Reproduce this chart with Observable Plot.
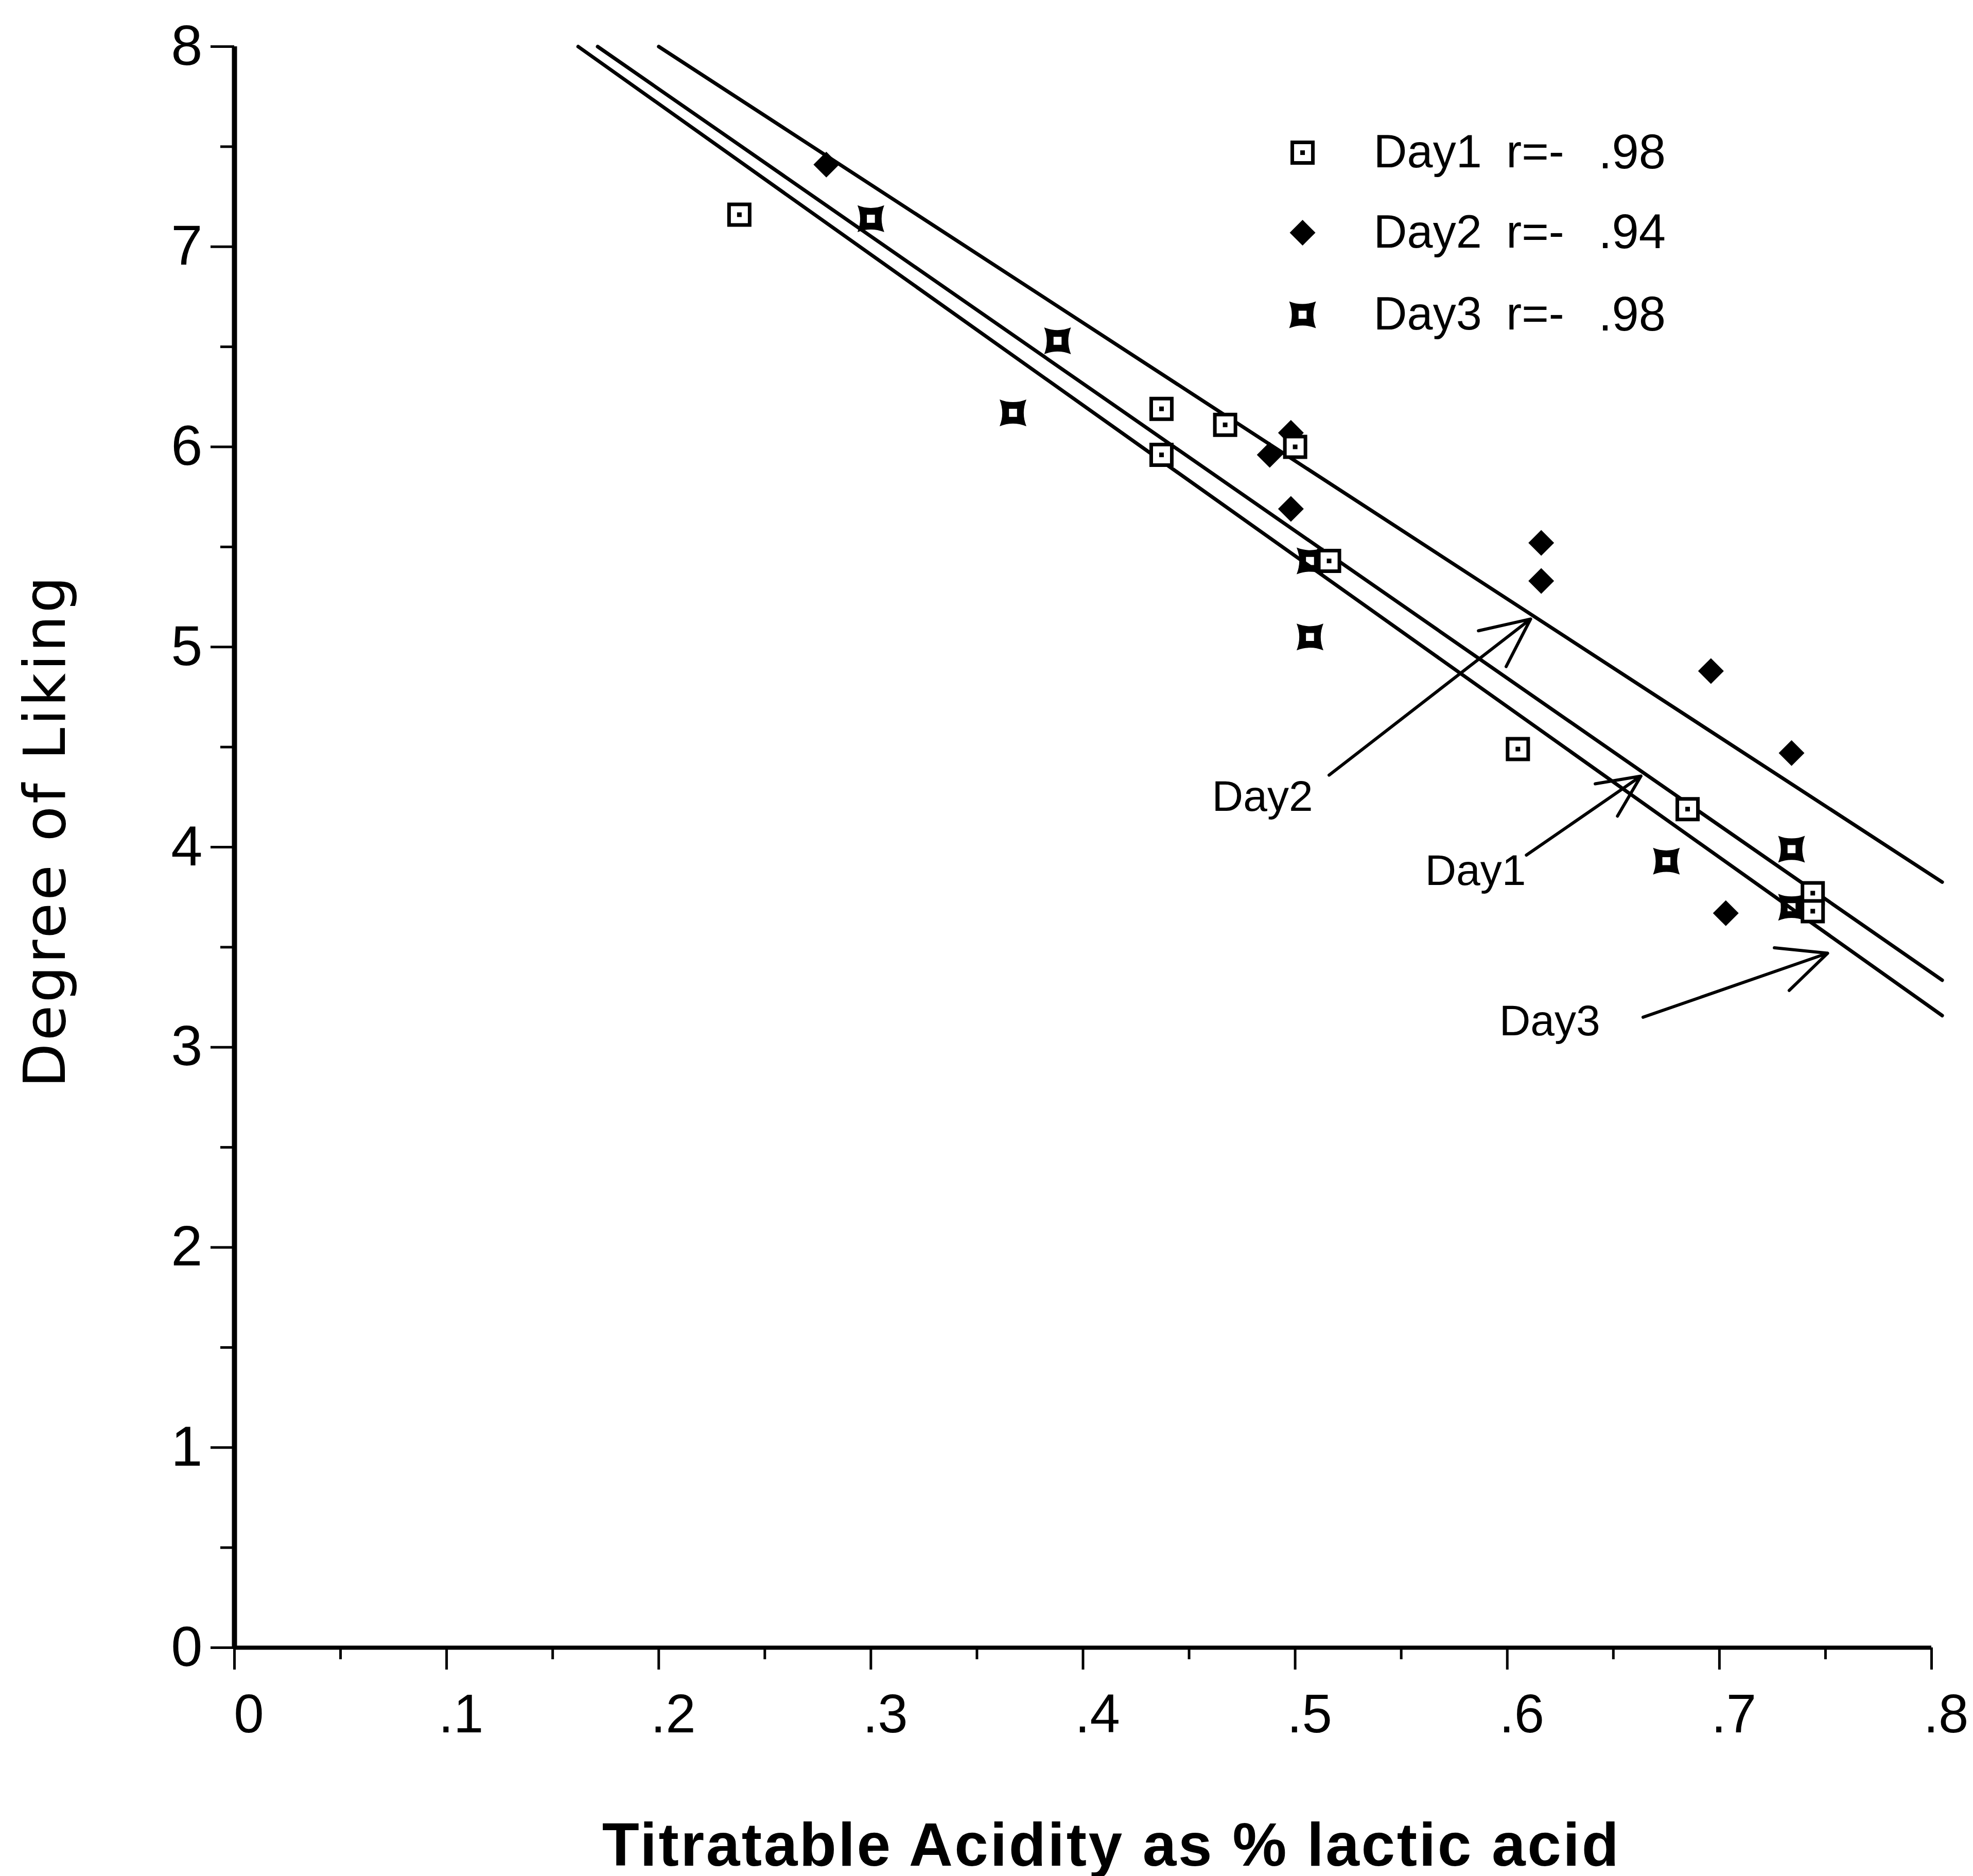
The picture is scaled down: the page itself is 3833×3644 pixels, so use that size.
<!DOCTYPE html>
<html><head><meta charset="utf-8">
<script src="https://cdn.jsdelivr.net/npm/d3@7"></script>
<script src="https://cdn.jsdelivr.net/npm/@observablehq/plot@0.6"></script>
<style>
html,body{margin:0;padding:0;background:#fff;}
</style>
</head><body><div id="chart"></div>
<script>
// ---- data ----
const day1X = [0.238, 0.437, 0.467, 0.437, 0.500, 0.516, 0.605, 0.685, 0.744, 0.744];
const day1Y = [7.16, 6.19, 6.11, 5.96, 6.00, 5.43, 4.49, 4.19, 3.77, 3.68];
const day2X = [0.279, 0.498, 0.488, 0.498, 0.616, 0.616, 0.696, 0.734, 0.703];
const day2Y = [7.41, 6.07, 5.96, 5.69, 5.52, 5.33, 4.88, 4.47, 3.67];
const day3X = [0.300, 0.388, 0.367, 0.507, 0.507, 0.734, 0.675, 0.734];
const day3Y = [7.14, 6.53, 6.17, 5.43, 5.05, 3.99, 3.93, 3.70];

const days = ["Day1", "Day2", "Day3"];
const rValues = [".98", ".94", ".98"];
const fitIntercept = [9.26, 9.38, 9.22];
const fitSlope = [-7.36, -6.90, -7.53];

const xTickValues = [0, 0.1, 0.2, 0.3, 0.4, 0.5, 0.6, 0.7, 0.8];
const xTickLabels = ["0", ".1", ".2", ".3", ".4", ".5", ".6", ".7", ".8"];
const xMinorTicks = [0.05, 0.15, 0.25, 0.35, 0.45, 0.55, 0.65, 0.75];
const yTickValues = [0, 1, 2, 3, 4, 5, 6, 7, 8];
const yTickLabels = ["0", "1", "2", "3", "4", "5", "6", "7", "8"];
const yMinorTicks = [0.5, 1.5, 2.5, 3.5, 4.5, 5.5, 6.5, 7.5];
const xTitle = "Titratable Acidity as % lactic acid";
const yTitle = "Degree of Liking";

// annotation callouts (label and arrow in data units)
const annoLabel = ["Day2", "Day1", "Day3"];
const annoTextX = [0.4846, 0.585, 0.620];
const annoTextY = [4.25, 3.88, 3.13];
const annoFromX = [0.516, 0.609, 0.664];
const annoFromY = [4.36, 3.96, 3.15];
const annoToX = [0.611, 0.663, 0.751];
const annoToY = [5.14, 4.355, 3.47];

// ---- build tables ----
const pts = (xs, ys) => xs.map((x, i) => ({x, y: ys[i]}));
const d1 = pts(day1X, day1Y), d2 = pts(day2X, day2Y), d3pts = pts(day3X, day3Y);
const fits = days.flatMap((d, i) => {
  const xa = (8 - fitIntercept[i]) / fitSlope[i];
  const xb = 0.805;
  return [{day: d, x: xa, y: fitIntercept[i] + fitSlope[i] * xa},
          {day: d, x: xb, y: fitIntercept[i] + fitSlope[i] * xb}];
});
const annos = annoLabel.map((t, i) => ({t, lx: annoTextX[i], ly: annoTextY[i],
  fx: annoFromX[i], fy: annoFromY[i], tx: annoToX[i], ty: annoToY[i]}));
const legendRows = days.map((d, i) => ({day: d, r: "r=-", v: rValues[i], row: i}));
const legendRowY = [7.47, 7.07, 6.66];

// ---- custom symbols ----
const sqOpen = {draw(ctx, size) {const r = Math.sqrt(size / Math.PI);
  ctx.moveTo(-r, -r); ctx.lineTo(r, -r); ctx.lineTo(r, r); ctx.lineTo(-r, r); ctx.closePath();}};
const diamond = {draw(ctx, size) {const r = Math.sqrt(size / Math.PI);
  ctx.moveTo(0, -r); ctx.lineTo(r, 0); ctx.lineTo(0, r); ctx.lineTo(-r, 0); ctx.closePath();}};
const concave = {draw(ctx, size) {const r = Math.sqrt(size / Math.PI); const k = r * 0.6;
  ctx.moveTo(-r, -r); ctx.quadraticCurveTo(0, -k, r, -r); ctx.quadraticCurveTo(k, 0, r, r);
  ctx.quadraticCurveTo(0, k, -r, r); ctx.quadraticCurveTo(-k, 0, -r, -r); ctx.closePath();
  const h = r * 0.3; ctx.moveTo(-h, -h); ctx.lineTo(-h, h); ctx.lineTo(h, h); ctx.lineTo(h, -h); ctx.closePath();}};

function day1Marks(data, x, y) {
  return [
    Plot.dot(data, {x, y, symbol: sqOpen, r: 20, fill: "white", stroke: "black", strokeWidth: 7}),
    Plot.dot(data, {x, y, symbol: sqOpen, r: 4.5, fill: "black", stroke: "none"})
  ];
}
function day2Marks(data, x, y) {
  return [Plot.dot(data, {x, y, symbol: diamond, r: 25, fill: "black", stroke: "none"})];
}
function day3Marks(data, x, y) {
  return [Plot.dot(data, {x, y, symbol: concave, r: 26, fill: "black", stroke: "none"})];
}

const font = "'Liberation Sans', Arial, Helvetica, sans-serif";

const chart = Plot.plot({
  width: 3833, height: 3644,
  marginLeft: 455, marginRight: 81, marginTop: 90, marginBottom: 444,
  style: {fontFamily: font, fontSize: "105px", color: "#000", background: "#fff", overflow: "visible"},
  x: {domain: [0, 0.8]},
  y: {domain: [0, 8]},
  marks: [
    // ticks
    Plot.axisX({ticks: xTickValues, tickSize: 43, strokeWidth: 5, fill: "none", label: null}),
    Plot.axisX({ticks: xMinorTicks, tickSize: 23, strokeWidth: 5, fill: "none", label: null}),
    Plot.axisY({ticks: yTickValues, tickSize: 46, strokeWidth: 5, fill: "none", label: null}),
    Plot.axisY({ticks: yMinorTicks, tickSize: 27, strokeWidth: 5, fill: "none", label: null}),
    // tick labels
    Plot.text(xTickValues, {x: d => d, text: (d, i) => xTickLabels[i], frameAnchor: "bottom",
      lineAnchor: "top", dy: 90, dx: 28, fontSize: 105}),
    Plot.text(yTickValues, {y: d => d, text: (d, i) => yTickLabels[i], frameAnchor: "left",
      textAnchor: "end", dx: -62, fontSize: 110}),
    // axis titles
    Plot.text([xTitle], {text: d => d, frameAnchor: "bottom", textAnchor: "middle", lineAnchor: "bottom",
      dy: 423, dx: 55, fontSize: 118, fontWeight: "bold"}),
    Plot.text([yTitle], {text: d => d, frameAnchor: "left", textAnchor: "middle", rotate: -90,
      dx: -365, dy: -32, fontSize: 112, fontFamily: "'DejaVu Sans', Verdana, sans-serif"}),
    // axis lines
    Plot.ruleY([0], {strokeWidth: 8}),
    Plot.ruleX([0], {strokeWidth: 10}),
    // regression lines
    Plot.line(fits, {x: "x", y: "y", z: "day", stroke: "black", strokeWidth: 7}),
    // data points
    ...day2Marks(d2, "x", "y"),
    ...day3Marks(d3pts, "x", "y"),
    ...day1Marks(d1, "x", "y"),
    // callouts
    Plot.arrow(annos, {x1: "fx", y1: "fy", x2: "tx", y2: "ty", stroke: "black", strokeWidth: 6,
      headLength: 26, headAngle: 50}),
    Plot.text(annos, {x: "lx", y: "ly", text: "t", fontSize: 84}),
    // legend
    ...day1Marks([legendRows[0]], () => 0.5035, d => legendRowY[d.row]),
    ...day2Marks([legendRows[1]], () => 0.5035, d => legendRowY[d.row]),
    ...day3Marks([legendRows[2]], () => 0.5035, d => legendRowY[d.row]),
    Plot.text(legendRows, {x: () => 0.537, y: d => legendRowY[d.row], text: "day", textAnchor: "start", fontSize: 90}),
    Plot.text(legendRows, {x: () => 0.5995, y: d => legendRowY[d.row], text: "r", textAnchor: "start", fontSize: 90}),
    Plot.text(legendRows, {x: () => 0.643, y: d => legendRowY[d.row], text: "v", textAnchor: "start", fontSize: 94})
  ]
});
// letter spacing for the axis titles
chart.querySelectorAll("text").forEach(t => {
  if (t.textContent === xTitle) t.style.letterSpacing = "3.5px";
  if (t.textContent === yTitle) t.style.letterSpacing = "5px";
});
document.getElementById("chart").append(chart);
</script>
</body></html>
